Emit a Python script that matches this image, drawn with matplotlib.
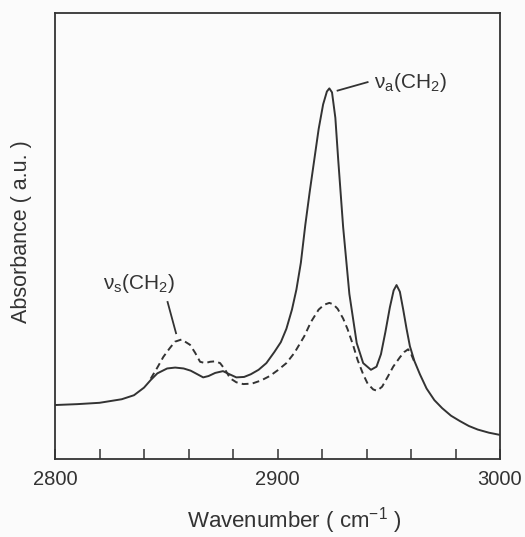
import matplotlib
matplotlib.use("Agg")
import matplotlib.pyplot as plt
from matplotlib.ticker import MultipleLocator, FixedLocator

plt.rcParams['font.family'] = ['Liberation Sans', 'DejaVu Sans']
plt.rcParams['mathtext.fontset'] = 'custom'
plt.rcParams['mathtext.rm'] = 'Liberation Sans'
plt.rcParams['mathtext.it'] = 'Liberation Sans'
plt.rcParams['mathtext.bf'] = 'Liberation Sans:bold'

# Solid spectrum (wavenumber, absorbance a.u.)
solid_wn = [2800, 2810, 2820, 2830, 2835.5, 2840, 2843, 2846, 2850.4, 2854, 2857.8,
            2861, 2864, 2866.6, 2869, 2872, 2875.5, 2878, 2881.5, 2885, 2888, 2891.5,
            2895, 2898.6, 2901.5, 2904, 2906.5, 2908.5, 2910.5, 2912.5, 2914.5, 2916.5,
            2918.5, 2920.5, 2922.2, 2923.3, 2924.5, 2926, 2927.3, 2929.5, 2932.3,
            2935.6, 2938.5, 2942, 2944.5, 2946.5, 2948.5, 2950.5, 2952.2, 2953.5,
            2955, 2956.5, 2958, 2959.5, 2961.5, 2964, 2967, 2970.5, 2974, 2978,
            2982, 2986, 2990, 2995, 3000]
solid_abs = [0.121, 0.123, 0.126, 0.134, 0.143, 0.160, 0.177, 0.192, 0.203, 0.205, 0.203,
             0.198, 0.190, 0.183, 0.186, 0.193, 0.197, 0.191, 0.183, 0.184, 0.190, 0.200,
             0.215, 0.240, 0.262, 0.292, 0.335, 0.380, 0.440, 0.525, 0.600, 0.670,
             0.740, 0.795, 0.824, 0.831, 0.822, 0.765, 0.670, 0.520, 0.370,
             0.260, 0.215, 0.200, 0.207, 0.235, 0.285, 0.340, 0.378, 0.390,
             0.375, 0.335, 0.292, 0.253, 0.220, 0.190, 0.158, 0.132, 0.114, 0.097,
             0.085, 0.074, 0.066, 0.059, 0.054]

# Dashed spectrum
dashed_wn = [2843, 2846, 2848.7, 2851.5, 2853.9, 2856.9, 2860.7, 2863, 2865.2, 2867.5,
             2869.7, 2872, 2874.2, 2876.5, 2878.7, 2881.5, 2884.6, 2888.5, 2892.6,
             2896.5, 2900.1, 2904, 2907.6, 2912, 2915, 2918.5, 2921, 2923.3, 2925,
             2927, 2929.5, 2931.5, 2934, 2936, 2938.5, 2940.5, 2943, 2944.7, 2947,
             2949.5, 2952, 2955, 2957, 2958.7, 2960, 2961.5]
dashed_abs = [0.180, 0.205, 0.229, 0.248, 0.263, 0.268, 0.256, 0.238, 0.218, 0.215,
              0.218, 0.219, 0.215, 0.200, 0.181, 0.172, 0.168, 0.169, 0.176,
              0.186, 0.199, 0.215, 0.238, 0.275, 0.307, 0.335, 0.346, 0.350, 0.347,
              0.337, 0.315, 0.291, 0.255, 0.222, 0.190, 0.169, 0.156, 0.153, 0.162,
              0.184, 0.207, 0.228, 0.240, 0.246, 0.236, 0.218]

xticks_major = [2800, 2900, 3000]
xtick_labels = ["2800", "2900", "3000"]

ink = "#333333"

fig = plt.figure(figsize=(5.25, 5.37), dpi=100)
fig.patch.set_facecolor("#fbfbfb")
ax = fig.add_axes([55/525, 1-459/537, 445/525, 446/537])
ax.set_facecolor("#fbfbfb")

ax.plot(solid_wn, solid_abs, color=ink, lw=1.4, solid_joinstyle='round')
ax.plot(dashed_wn, dashed_abs, color=ink, lw=1.4, linestyle=(0, (3.5, 2.2)))

ax.set_xlim(2800, 3000)
ax.set_ylim(0, 1)

ax.xaxis.set_major_locator(FixedLocator(xticks_major))
ax.set_xticklabels(xtick_labels)
ax.xaxis.set_minor_locator(MultipleLocator(20))
ax.tick_params(axis='x', which='both', direction='in', length=7, width=1.1,
               color=ink, labelsize=14.5, labelcolor=ink, pad=8)
ax.set_yticks([])
for s in ax.spines.values():
    s.set_color(ink)
    s.set_linewidth(1.3)

# Annotations
ax.plot([2927.0, 2940.5], [0.826, 0.845], color=ink, lw=1.3)
ax.text(2943.5, 0.845, r"$\nu_{a}$(CH$_2$)", fontsize=15, color=ink, ha='left', va='center')
ax.plot([2850.6, 2854.4], [0.352, 0.282], color=ink, lw=1.3)
ax.text(2821.4, 0.393, r"$\nu_{s}$(CH$_2$)", fontsize=15, color=ink, ha='left', va='center')

fig.text(22/525, 1-232/537, "Absorbance ( a.u. )", rotation=90, fontsize=15.5,
         color=ink, ha='center', va='center')
fig.text(294/525, 1-527/537, r"Wavenumber ( cm$^{-1}$ )", fontsize=16,
         color=ink, ha='center', va='baseline')

fig.savefig("out.png", dpi=100, facecolor=fig.get_facecolor())
